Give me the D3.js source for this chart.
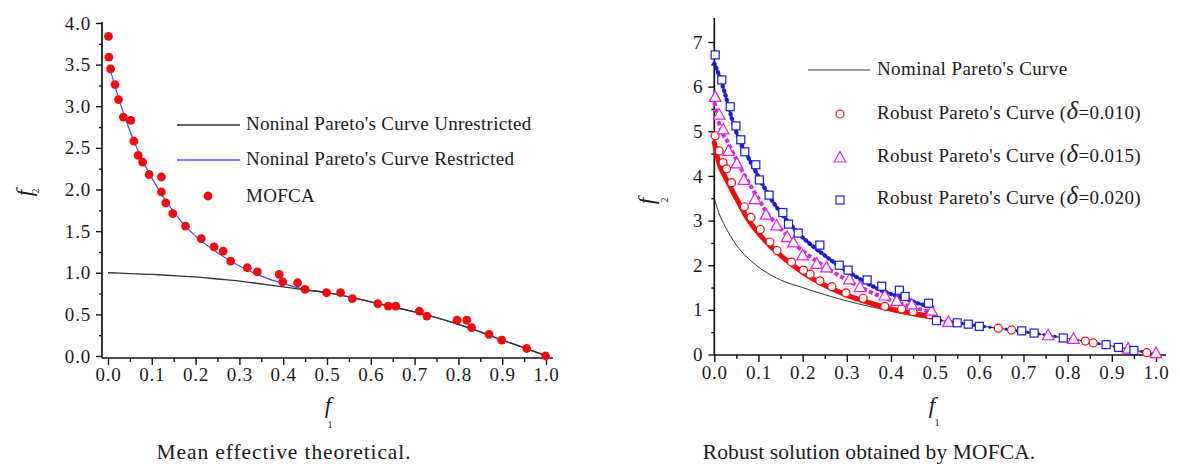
<!DOCTYPE html>
<html>
<head>
<meta charset="utf-8">
<script src="https://cdn.jsdelivr.net/npm/d3@7"></script>
<style>
  html, body { margin: 0; padding: 0; background: #fff; }
  svg { display: block; }
  text { font-family: "Liberation Serif", "Times New Roman", serif; fill: #1a1a1a; }
</style>
</head>
<body>
<svg id="chart" width="1180" height="464"></svg>
<script>
// ---------- Left panel: mean effective theoretical ----------
const leftXTicks = [0, 0.1, 0.2, 0.3, 0.4, 0.5, 0.6, 0.7, 0.8, 0.9, 1.0];
const leftYTicks = [0, 0.5, 1.0, 1.5, 2.0, 2.5, 3.0, 3.5, 4.0];

// Nominal Pareto's curve, unrestricted
const unrestrictedF1 = [0, 0.05, 0.1, 0.15, 0.2, 0.25, 0.3, 0.35, 0.4, 0.45, 0.5, 0.55, 0.6, 0.65, 0.7, 0.75, 0.8, 0.85, 0.9, 0.95, 1.0];
const unrestrictedF2 = [1.00, 0.99, 0.98, 0.965, 0.95, 0.925, 0.90, 0.865, 0.83, 0.795, 0.76, 0.71, 0.65, 0.59, 0.53, 0.46, 0.38, 0.29, 0.19, 0.10, 0.0];

// Nominal Pareto's curve, restricted
const restrictedF1 = [0.005, 0.02, 0.04, 0.06, 0.08, 0.1, 0.125, 0.15, 0.175, 0.2, 0.25, 0.3, 0.35, 0.4, 0.45, 0.5, 0.55, 0.6, 0.65, 0.7, 0.75, 0.8, 0.85, 0.9, 0.95, 1.0];
const restrictedF2 = [3.44, 3.17, 2.85, 2.57, 2.34, 2.14, 1.92, 1.73, 1.57, 1.44, 1.24, 1.08, 0.96, 0.87, 0.80, 0.76, 0.71, 0.65, 0.59, 0.53, 0.46, 0.38, 0.29, 0.19, 0.10, 0.0];

// MOFCA solutions
const mofcaF1 = [0.001, 0.002, 0.006, 0.016, 0.024, 0.035, 0.052, 0.059, 0.069, 0.079, 0.094, 0.122, 0.122, 0.132, 0.148, 0.177, 0.213, 0.242, 0.263, 0.280, 0.318, 0.341, 0.391, 0.399, 0.433, 0.450, 0.499, 0.531, 0.558, 0.616, 0.640, 0.657, 0.711, 0.728, 0.797, 0.819, 0.830, 0.870, 0.899, 0.956, 0.999];
const mofcaF2 = [3.84, 3.59, 3.45, 3.26, 3.08, 2.87, 2.83, 2.58, 2.41, 2.33, 2.18, 2.15, 1.97, 1.84, 1.71, 1.56, 1.41, 1.31, 1.26, 1.14, 1.06, 1.01, 0.98, 0.89, 0.88, 0.80, 0.76, 0.76, 0.69, 0.63, 0.60, 0.60, 0.54, 0.48, 0.43, 0.43, 0.34, 0.26, 0.19, 0.09, 0.00];

const leftLegend = ["Noninal Pareto's Curve Unrestricted", "Noninal Pareto's Curve Restricted", "MOFCA"];

// ---------- Right panel: robust solution ----------
const rightXTicks = [0, 0.1, 0.2, 0.3, 0.4, 0.5, 0.6, 0.7, 0.8, 0.9, 1.0];
const rightYTicks = [0, 1, 2, 3, 4, 5, 6, 7];

const nominalF1 = [0, 0.01, 0.025, 0.05, 0.075, 0.1, 0.15, 0.2, 0.25, 0.3, 0.35, 0.4, 0.45, 0.5, 0.55, 0.6, 0.65, 0.7, 0.75, 0.8, 0.85, 0.9, 0.95, 1.0];
const nominalF2 = [3.50, 3.18, 2.86, 2.45, 2.17, 1.96, 1.67, 1.50, 1.34, 1.20, 1.08, 0.97, 0.87, 0.78, 0.71, 0.64, 0.58, 0.51, 0.44, 0.36, 0.28, 0.19, 0.10, 0.0];

// delta = 0.010 (red)
const red010BandF1 = [0, 0.01, 0.025, 0.05, 0.075, 0.1, 0.125, 0.15, 0.175, 0.2, 0.25, 0.3, 0.35, 0.4, 0.45, 0.5];
const red010BandF2 = [4.75, 4.30, 3.97, 3.50, 3.05, 2.72, 2.45, 2.22, 2.02, 1.84, 1.55, 1.33, 1.16, 1.02, 0.92, 0.84];
const red010MarkF1 = [0.002, 0.011, 0.02, 0.028, 0.039, 0.068, 0.083, 0.104, 0.126, 0.142, 0.175, 0.202, 0.217, 0.239, 0.266, 0.298, 0.337, 0.386, 0.424, 0.45, 0.488, 0.643, 0.673, 0.84, 0.858, 0.979];
const red010MarkF2 = [4.90, 4.56, 4.30, 4.16, 3.85, 3.31, 3.07, 2.80, 2.52, 2.33, 2.07, 1.89, 1.80, 1.65, 1.52, 1.38, 1.26, 1.08, 1.02, 0.96, 0.89, 0.59, 0.55, 0.30, 0.26, 0.04];

// delta = 0.015 (magenta)
const mag015BandF1 = [0, 0.013, 0.032, 0.054, 0.077, 0.1, 0.115, 0.153, 0.19, 0.239, 0.3, 0.36, 0.42, 0.488, 0.5];
const mag015BandF2 = [5.65, 5.10, 4.73, 4.28, 3.87, 3.49, 3.24, 2.79, 2.41, 2.04, 1.67, 1.37, 1.15, 0.96, 0.94];
const mag015MarkF1 = [0.002, 0.011, 0.02, 0.032, 0.051, 0.067, 0.092, 0.117, 0.141, 0.165, 0.179, 0.2, 0.232, 0.254, 0.306, 0.33, 0.386, 0.413, 0.447, 0.492, 0.53, 0.756, 0.813, 0.937, 1.0];
const mag015MarkF2 = [5.76, 5.36, 5.03, 4.55, 4.27, 3.90, 3.47, 3.12, 2.88, 2.62, 2.50, 2.21, 2.02, 1.94, 1.67, 1.50, 1.31, 1.19, 1.11, 0.97, 0.72, 0.42, 0.34, 0.12, 0.02];

// delta = 0.020 (blue)
const blue020BandF1 = [0, 0.01, 0.025, 0.04, 0.055, 0.075, 0.1, 0.13, 0.16, 0.19, 0.22, 0.25, 0.28, 0.315, 0.345, 0.375, 0.41, 0.443, 0.47, 0.5];
const blue020BandF2 = [6.52, 6.28, 5.82, 5.28, 4.84, 4.45, 3.98, 3.46, 3.06, 2.72, 2.45, 2.22, 2.00, 1.78, 1.60, 1.45, 1.32, 1.21, 1.12, 1.04];
const blue020TailF1 = [0.5, 0.55, 0.6, 0.65, 0.7, 0.75, 0.8, 0.85, 0.9, 0.95, 1.0];
const blue020TailF2 = [0.78, 0.71, 0.64, 0.58, 0.51, 0.44, 0.36, 0.28, 0.19, 0.10, 0.01];
const blue020MarkF1 = [0.002, 0.017, 0.036, 0.049, 0.06, 0.069, 0.094, 0.102, 0.124, 0.155, 0.168, 0.19, 0.239, 0.283, 0.303, 0.346, 0.379, 0.419, 0.432, 0.485, 0.503, 0.55, 0.575, 0.6, 0.696, 0.724, 0.79, 0.887, 0.915, 0.95];
const blue020MarkF2 = [6.71, 6.15, 5.55, 5.12, 4.81, 4.54, 4.25, 3.91, 3.57, 3.18, 2.92, 2.72, 2.45, 2.00, 1.89, 1.67, 1.53, 1.44, 1.30, 1.15, 0.76, 0.71, 0.68, 0.63, 0.53, 0.48, 0.37, 0.22, 0.16, 0.09];

const rightLegendNominal = "Nominal Pareto's Curve";
const robustDeltas = ["0.010", "0.015", "0.020"];

const captions = ["Mean effective theoretical.", "Robust solution obtained by MOFCA."];

// ---------- helpers ----------
const svg = d3.select("#chart");
const zip = (a, b) => a.map((v, i) => [v, b[i]]);
const fmt1 = d3.format(".1f");

const RED = "#f00c0c", MAG = "#e21ee2", BLUE = "#1a1ad2";

function drawAxes(g, x, y, opt) {
  // axis lines
  g.append("line").attr("x1", opt.xStart).attr("x2", opt.xEnd)
    .attr("y1", opt.axisY).attr("y2", opt.axisY)
    .attr("stroke", "#111").attr("stroke-width", 1.7);
  g.append("line").attr("x1", opt.axisX).attr("x2", opt.axisX)
    .attr("y1", opt.axisY).attr("y2", opt.yTop)
    .attr("stroke", "#111").attr("stroke-width", 1.7);

  // bottom axis: major ticks with labels
  const xa = g.append("g").attr("transform", `translate(0,${opt.axisY})`)
    .call(d3.axisBottom(x).tickValues(opt.xTicks).tickFormat(fmt1).tickSize(7).tickPadding(opt.xPad));
  // bottom axis: minor ticks
  const xMinor = opt.xTicks.slice(0, -1).map(v => v + 0.05);
  const xm = g.append("g").attr("transform", `translate(0,${opt.axisY})`)
    .call(d3.axisBottom(x).tickValues(xMinor).tickFormat("").tickSize(4));

  // left axis
  const ya = g.append("g").attr("transform", `translate(${opt.axisX},0)`)
    .call(d3.axisLeft(y).tickValues(opt.yTicks).tickFormat(opt.yFmt).tickSize(6).tickPadding(5));
  const ym = g.append("g").attr("transform", `translate(${opt.axisX},0)`)
    .call(d3.axisLeft(y).tickValues(opt.yMinor).tickFormat("").tickSize(3));

  [xa, xm, ya, ym].forEach(a => {
    a.select(".domain").remove();
    a.selectAll(".tick line").attr("stroke", "#111").attr("stroke-width", 1.4);
    a.selectAll("text").attr("font-family", "Liberation Serif, serif")
      .attr("font-size", 19).attr("letter-spacing", 0.8).attr("fill", "#222");
  });
}

function axisTitles(g, xPos, yPos) {
  // f1 under the bottom axis
  g.append("text").attr("x", xPos.x).attr("y", xPos.y)
    .attr("text-anchor", "middle").attr("font-style", "italic").attr("font-size", 23)
    .text("f");
  g.append("text").attr("x", xPos.sx).attr("y", xPos.sy)
    .attr("text-anchor", "middle").attr("font-size", 10).attr("fill", "#444")
    .text("1");
  // f2 beside the left axis
  g.append("text").attr("transform", `translate(${yPos.x},${yPos.y}) rotate(-90)`)
    .attr("text-anchor", "middle").attr("font-style", "italic").attr("font-size", 23)
    .text("f");
  g.append("text").attr("transform", `translate(${yPos.sx},${yPos.sy}) rotate(-90)`)
    .attr("text-anchor", "middle").attr("font-size", 10).attr("fill", "#444")
    .text("2");
}

// ---------- left panel ----------
const gL = svg.append("g");
const xL = d3.scaleLinear().domain([0, 1]).range([108, 546]);
const yL = d3.scaleLinear().domain([0, 4]).range([356, 23]);

drawAxes(gL, xL, yL, {
  xStart: 102, xEnd: 553, axisY: 358, axisX: 102, yTop: 22,
  xTicks: leftXTicks, yTicks: leftYTicks, yFmt: fmt1, xPad: 3,
  yMinor: leftYTicks.slice(0, -1).map(v => v + 0.25)
});

const lineL = d3.line().x(d => xL(d[0])).y(d => yL(d[1])).curve(d3.curveMonotoneX);

gL.append("path").datum(zip(restrictedF1, restrictedF2))
  .attr("d", lineL).attr("fill", "none").attr("stroke", "#4848f0").attr("stroke-width", 1.2);
gL.append("path").datum(zip(unrestrictedF1, unrestrictedF2))
  .attr("d", lineL).attr("fill", "none").attr("stroke", "#333").attr("stroke-width", 1.3);

gL.append("g").selectAll("circle").data(zip(mofcaF1, mofcaF2)).join("circle")
  .attr("cx", d => xL(d[0])).attr("cy", d => yL(d[1])).attr("r", 4.4)
  .attr("fill", RED);

// legend
const legL = gL.append("g");
legL.append("line").attr("x1", 177).attr("x2", 240).attr("y1", 125).attr("y2", 125)
  .attr("stroke", "#333").attr("stroke-width", 1.3);
legL.append("line").attr("x1", 177).attr("x2", 240).attr("y1", 160).attr("y2", 160)
  .attr("stroke", "#4848f0").attr("stroke-width", 1.3);
legL.append("circle").attr("cx", 208).attr("cy", 196).attr("r", 4.4).attr("fill", RED);
legL.selectAll("text.leg").data(leftLegend).join("text").attr("class", "leg")
  .attr("x", 246).attr("y", (d, i) => [130, 165, 202][i])
  .attr("font-size", 19).attr("letter-spacing", 0.3).text(d => d);

axisTitles(gL, { x: 328, y: 413, sx: 330, sy: 428 }, { x: 32, y: 193, sx: 39, sy: 191 });

// ---------- right panel ----------
const gR = svg.append("g");
const xR = d3.scaleLinear().domain([0, 1]).range([714.3, 1156]);
const yR = d3.scaleLinear().domain([0, 7]).range([354.5, 42]);

drawAxes(gR, xR, yR, {
  xStart: 714.3, xEnd: 1166, axisY: 355, axisX: 714.3, yTop: 18,
  xTicks: rightXTicks, yTicks: rightYTicks, yFmt: d3.format("d"), xPad: 4,
  yMinor: rightYTicks.slice(0, -1).map(v => v + 0.5)
});

const lineR = d3.line().x(d => xR(d[0])).y(d => yR(d[1])).curve(d3.curveMonotoneX);

gR.append("path").datum(zip(nominalF1, nominalF2))
  .attr("d", lineR).attr("fill", "none").attr("stroke", "#333").attr("stroke-width", 1);

// dense solution bands
gR.append("path").datum(zip(red010BandF1, red010BandF2))
  .attr("d", lineR).attr("fill", "none").attr("stroke", RED).attr("stroke-width", 5)
  .attr("stroke-linecap", "round");
gR.append("path").datum(zip(mag015BandF1, mag015BandF2))
  .attr("d", lineR).attr("fill", "none").attr("stroke", MAG).attr("stroke-width", 4)
  .attr("stroke-dasharray", "4,2.5");
gR.append("path").datum(zip(blue020BandF1, blue020BandF2))
  .attr("d", lineR).attr("fill", "none").attr("stroke", BLUE).attr("stroke-width", 4.2)
  .attr("stroke-linecap", "round").attr("stroke-dasharray", "0.8,4");
gR.append("path").datum(zip(blue020TailF1, blue020TailF2))
  .attr("d", lineR).attr("fill", "none").attr("stroke", BLUE).attr("stroke-width", 3)
  .attr("stroke-linecap", "round").attr("stroke-dasharray", "0.5,5");

// open markers
const triPath = s => `M0,${-s * 0.62}L${s * 0.55},${s * 0.38}L${-s * 0.55},${s * 0.38}Z`;

gR.append("g").selectAll("circle").data(zip(red010MarkF1, red010MarkF2)).join("circle")
  .attr("cx", d => xR(d[0])).attr("cy", d => yR(d[1])).attr("r", 4)
  .attr("fill", "#fff").attr("stroke", RED).attr("stroke-width", 1.2);
gR.append("g").selectAll("path").data(zip(mag015MarkF1, mag015MarkF2)).join("path")
  .attr("transform", d => `translate(${xR(d[0])},${yR(d[1])})`).attr("d", triPath(10.5))
  .attr("fill", "#fff").attr("stroke", MAG).attr("stroke-width", 1.2);
gR.append("g").selectAll("rect").data(zip(blue020MarkF1, blue020MarkF2)).join("rect")
  .attr("x", d => xR(d[0]) - 4).attr("y", d => yR(d[1]) - 4)
  .attr("width", 8).attr("height", 8)
  .attr("fill", "#fff").attr("stroke", BLUE).attr("stroke-width", 1.2);

// legend
const legR = gR.append("g");
legR.append("line").attr("x1", 808).attr("x2", 870).attr("y1", 70).attr("y2", 70)
  .attr("stroke", "#333").attr("stroke-width", 1.2);
legR.append("text").attr("x", 877).attr("y", 75).attr("font-size", 19)
  .attr("letter-spacing", 0.4).text(rightLegendNominal);
legR.append("circle").attr("cx", 840).attr("cy", 114).attr("r", 4)
  .attr("fill", "#fff").attr("stroke", RED).attr("stroke-width", 1.2);
legR.append("path").attr("transform", "translate(840,158)").attr("d", triPath(10.5))
  .attr("fill", "#fff").attr("stroke", MAG).attr("stroke-width", 1.2);
legR.append("rect").attr("x", 836).attr("y", 196).attr("width", 8).attr("height", 8)
  .attr("fill", "#fff").attr("stroke", BLUE).attr("stroke-width", 1.2);
robustDeltas.forEach((dv, i) => {
  const t = legR.append("text").attr("x", 877).attr("y", [119, 162, 204][i])
    .attr("font-size", 19).attr("letter-spacing", 0.4);
  t.append("tspan").text("Robust Pareto's Curve (");
  t.append("tspan").attr("font-style", "italic").attr("font-size", 25).text("δ");
  t.append("tspan").text("=" + dv + ")");
});

axisTitles(gR, { x: 932, y: 413, sx: 937, sy: 426 }, { x: 654, y: 201, sx: 668, sy: 200 });

// ---------- captions ----------
const capL = svg.append("text").attr("x", 284).attr("y", 459)
  .attr("text-anchor", "middle").attr("font-size", 21.5).attr("letter-spacing", 0.9)
  .attr("fill", "#111").text(captions[0]);
const capR = svg.append("text").attr("x", 869).attr("y", 459)
  .attr("text-anchor", "middle").attr("font-size", 21.5).attr("letter-spacing", 0.1)
  .attr("fill", "#111").text(captions[1]);
</script>
</body>
</html>
